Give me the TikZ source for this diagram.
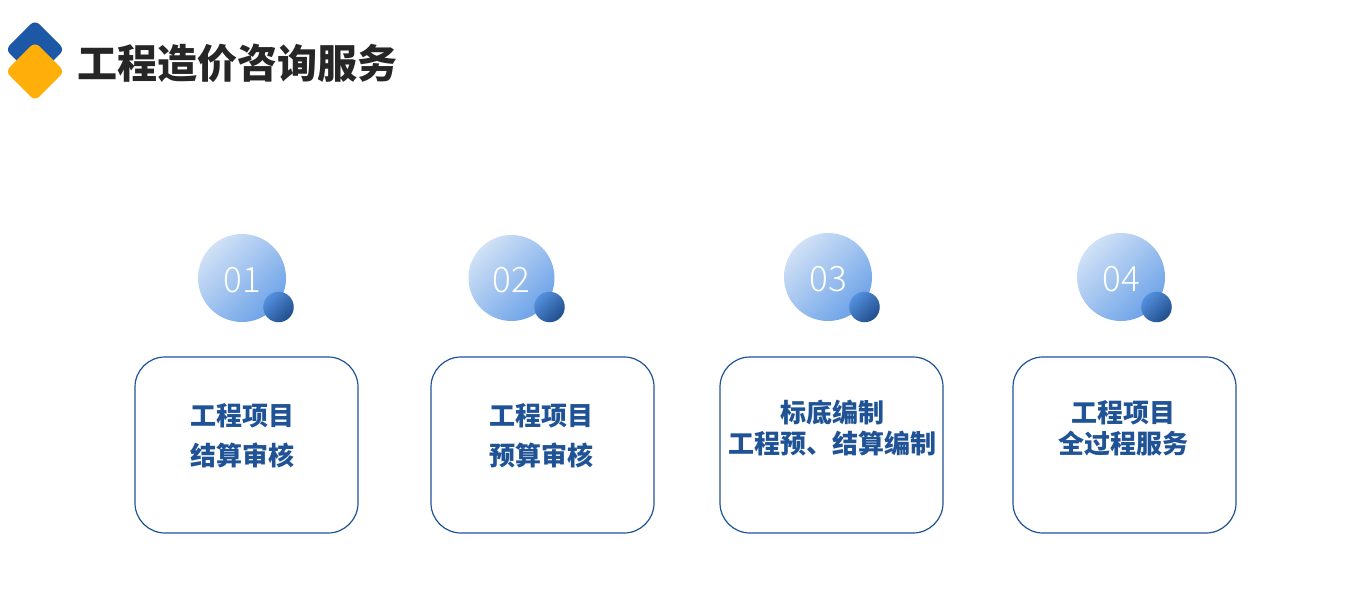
\documentclass[tikz,border=0pt]{standalone}
\usepackage{fontspec}
\setmainfont{Noto Sans CJK SC}
\newfontfamily\numfont[UprightFont=* Light]{Noto Sans CJK SC}
\tikzset{
  bigdisc/.style={circle,inner sep=0,minimum size=88pt,text=white,text height=29pt,text depth=0pt,font=\numfont\fontsize{35}{35}\selectfont,
    top color=disc_light,bottom color=disc_deep,shading angle=45},
  smalldisc/.style={circle,inner sep=0,minimum size=30.5pt,
    top color=dot_light,bottom color=dot_deep,shading angle=45},
  cardbox/.style={draw=card_blue,line width=1.2pt,rounded corners=30pt,fill=white,minimum width=223pt,minimum height=176pt,inner sep=0},
  widelabel/.style={align=center,inner sep=0,text=card_blue,font=\fontsize{26}{40}\bfseries\selectfont},
  tightlabel/.style={align=center,inner sep=0,text=card_blue,font=\fontsize{26}{31}\bfseries\selectfont},
}
\begin{document}
\begin{tikzpicture}[x=1pt,y=-1pt]
% ------------------------------------------------ theme colors
\definecolor{card_blue}{RGB}{31,83,150}  %#1F5396
\definecolor{logo_blue}{RGB}{28,88,166}  %#1C58A6
\definecolor{logo_gold}{RGB}{255,174,10} %#FFAE0A
\definecolor{title_ink}{RGB}{38,38,38}   %#262626
\definecolor{disc_light}{RGB}{208,225,246}
\definecolor{disc_deep}{RGB}{108,162,232}
\definecolor{dot_light}{RGB}{84,144,222}
\definecolor{dot_deep}{RGB}{32,78,140}

\useasboundingbox (0,0) rectangle (1367,604);

\newcommand{\logotile}[3]{
\fill[#1,rounded corners=6pt] (#2,#3-29.5) -- (#2+29.5,#3) -- (#2,#3+29.5) -- (#2-29.5,#3) -- cycle;
}
\logotile{logo_blue}{35}{49.5};
\logotile{logo_gold}{35}{71.5};

\node[anchor=west,inner sep=0,text=title_ink,font=\fontsize{40}{40}\bfseries\selectfont] (title) at (77.5,63) {工程造价咨询服务};

% ------------------------------------------------ numbered discs
\node[bigdisc] (disc1) at (242,278) {01};
\node[smalldisc] (dot1) at (278.5,307) {};
\node[bigdisc,minimum size=86pt] (disc2) at (511.5,278) {02};
\node[smalldisc] (dot2) at (549.5,307) {};
\node[bigdisc] (disc3) at (828,277) {03};
\node[smalldisc] (dot3) at (864.5,307) {};
\node[bigdisc] (disc4) at (1121,277) {04};
\node[smalldisc] (dot4) at (1156.5,307) {};

% ------------------------------------------------ cards
\node[cardbox] (card1) at (246.5,445) {};
\node[cardbox] (card2) at (542.5,445) {};
\node[cardbox] (card3) at (831.5,445) {};
\node[cardbox] (card4) at (1124.5,445) {};

\node[widelabel] (label1) at (242,436) {工程项目\\结算审核};
\node[widelabel] (label2) at (541.5,436) {工程项目\\预算审核};
\node[tightlabel] (label3) at (832,428.5) {标底编制\\工程预、结算编制};
\node[tightlabel] (label4) at (1123,428.5) {工程项目\\全过程服务};

\end{tikzpicture}
\end{document}
